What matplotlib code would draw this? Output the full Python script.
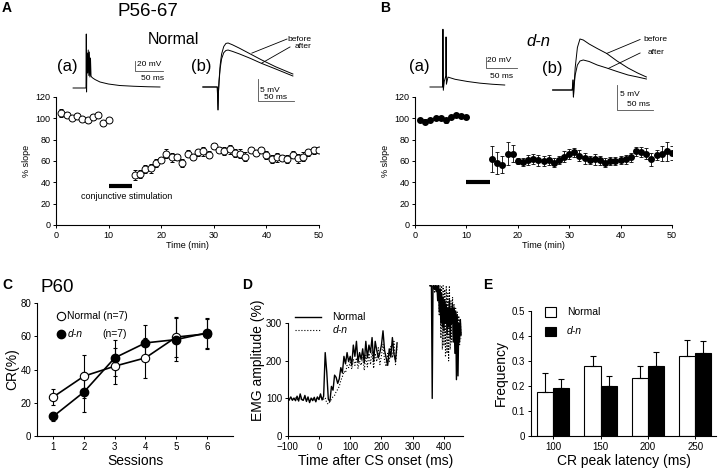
import matplotlib
matplotlib.use("Agg")
import matplotlib.pyplot as plt
from matplotlib.patches import Rectangle

plt.rcParams["font.family"] = ["Liberation Sans", "DejaVu Sans"]
plt.rcParams["axes.linewidth"] = 0.8
plt.rcParams["axes.facecolor"] = "none"

# ---------------- DATA ----------------
# A / B : % slope time course
time_pre = [1, 2, 3, 4, 5, 6, 7, 8, 9, 10]
time_post = [15, 16, 17, 18, 19, 20, 21, 22, 23, 24, 25, 26, 27, 28, 29, 30, 31, 32,
             33, 34, 35, 36, 37, 38, 39, 40, 41, 42, 43, 44, 45, 46, 47, 48, 49, 50]

normal_pre = [105, 103, 100.5, 102, 99.5, 98, 101.5, 103, 95.5, 98.5]
normal_pre_err = [4, 3, 2, 3, 2, 2, 3, 3, 3, 2]
normal_post = [47, 48, 52.5, 53, 58, 61, 67, 63.5, 63.5, 58, 67, 64, 68, 69, 66, 74, 70.5, 69.5,
               71, 67.5, 67, 64, 70.5, 67.5, 70.5, 65.5, 62, 63.5, 63, 62, 66, 62.5, 64, 68, 70, 70.5]
normal_post_err = [5, 4, 4, 4, 4, 3, 4, 4, 3, 4, 3, 3, 3, 4, 3, 3, 3, 4,
                   4, 4, 4, 4, 3, 3, 3, 4, 4, 4, 3, 4, 3, 4, 4, 3, 3, 3]

dn_pre = [98.7, 97, 98.7, 100.6, 100, 98, 101, 103, 102, 101]
dn_pre_err = [2, 2, 2, 2, 2, 2, 2, 2, 2, 2]
dn_post = [62, 58, 56.5, 67, 67, 60, 59, 61, 62, 60.5, 60, 61, 58.5, 61, 64, 66.5, 68, 65,
           62.5, 61, 61.5, 60.5, 58.5, 60, 60, 61, 61.5, 63.5, 69, 68.5, 67, 61.5, 65.5, 67, 69, 67.5]
dn_post_err = [12, 10, 8, 11, 8, 3, 4, 5, 5, 5, 5, 5, 4, 4, 5, 5, 4, 5,
               5, 4, 5, 4, 4, 4, 4, 4, 4, 4, 4, 5, 5, 6, 5, 7, 9, 7]

# example traces (ms, mV relative to baseline)
a_spike_t = [-23, 0, 0.5, 1, 2, 3, 4, 5, 6, 7, 8, 9, 10, 12, 16, 25, 40, 60, 85, 110, 132]
a_spike_v = [0, 0, 108, -8, 70, 30, 76, 25, 72, 22, 60, 24, 22, 20, 17, 12, 8, 5, 3.5, 2.5, 2]
a_epsp_t = [-21, -1, 0, 0.7, 1.5, 3, 5, 8, 11, 14, 20, 30, 45, 60, 80, 104]
a_before_v = [0, 0, -5.2, -1, 1.5, 5, 7.5, 9.2, 9.9, 10, 9.6, 8.8, 7.5, 6.2, 4.6, 2.95]
a_after_v = [0, 0, -5.2, -1, 1.3, 4.2, 6.4, 7.8, 8.3, 8.4, 8.1, 7.5, 6.5, 5.4, 4.1, 2.5]

b_spike_t = [-20.5, 0, 0.4, 1, 2.5, 5, 5.4, 6, 8.5, 20, 40, 60, 80, 100]
b_spike_v = [0, 0, 105, -6, 10, 20, 91, 5, 18, 14, 10, 7, 5, 3.6]
b_epsp_t = [-27.7, -1, 0, 0.6, 1.5, 3, 6, 9.5, 14, 22, 33, 46, 60, 75, 88, 100]
b_before_v = [0, 0, 2, -1.4, 1, 4.5, 8.5, 10.2, 10, 9.2, 8.3, 7.3, 5.8, 4.4, 3.4, 2.6]
b_after_v = [0, 0, 2, -1.4, 0.8, 3, 5, 5.8, 6, 5.7, 5, 4.4, 3.7, 3.0, 2.6, 2.2]

# C : CR(%) over sessions
sessions = [1, 2, 3, 4, 5, 6]
cr_normal = [23.5, 36, 42, 47, 59.5, 61.5]
cr_normal_err = [5, 13, 11, 12, 12, 9]
cr_dn = [11.8, 26.5, 47, 56, 58, 62]
cr_dn_err = [2.5, 12, 11, 11, 13, 9]

# D : EMG amplitude
emg_t1 = list(range(-100, 255, 5))
emg_normal1 = [100, 97, 104, 95, 101, 94, 106, 93, 112, 97, 95, 108, 92, 104, 89, 101, 94, 103,
               91, 104, 97, 112, 96, 106, 222, 170, 98, 92, 132, 122, 162, 156, 140, 152, 182, 168,
               212, 192, 222, 198, 212, 188, 242, 212, 252, 196, 222, 204, 232, 194, 252, 208, 242,
               222, 262, 198, 252, 228, 208, 222, 242, 280, 228, 208, 188, 232, 210, 262, 218, 200, 248]
emg_dn1 = [102, 95, 100, 98, 97, 103, 96, 99, 104, 94, 100, 102, 95, 99, 93, 98, 100, 96,
           99, 101, 98, 103, 100, 98, 102, 88, 85, 92, 98, 105, 108, 118, 124, 132, 148, 158,
           172, 168, 188, 182, 196, 178, 205, 188, 208, 180, 200, 188, 210, 175, 215, 184, 220,
           190, 228, 180, 220, 198, 235, 190, 214, 244, 200, 185, 220, 198, 240, 208, 252, 190, 238]
emg_t2 = [355, 357.5, 360, 362.5, 365, 367.5, 370, 372.5, 375, 377.5, 380, 382.5, 385, 387.5,
          390, 392.5, 395, 397.5, 400, 402.5, 405, 407.5, 410, 412.5, 415, 417.5, 420, 422.5,
          425, 427.5, 430, 432.5, 435, 437.5, 440, 442.5, 445, 447.5, 450, 452.5, 455]
emg_normal2 = [400, 400, 400, 100, 400, 400, 390, 400, 385, 400, 360, 400, 330, 390,
               300, 380, 290, 370, 280, 360, 300, 350, 270, 340, 290, 360, 260, 340,
               300, 350, 250, 340, 220, 330, 150, 320, 160, 300, 250, 310, 270]
emg_dn2 = [400, 400, 400, 400, 395, 400, 380, 400, 390, 400, 370, 400, 320, 400,
           260, 400, 230, 400, 240, 390, 210, 400, 220, 380, 200, 400, 230, 360,
           250, 370, 270, 350, 240, 340, 260, 330, 230, 320, 240, 310, 260]

# E : CR peak latency distribution
latency = ["100", "150", "200", "250"]
freq_normal = [0.177, 0.279, 0.23, 0.32]
freq_normal_err = [0.073, 0.04, 0.048, 0.063]
freq_dn = [0.19, 0.20, 0.28, 0.331]
freq_dn_err = [0.039, 0.039, 0.054, 0.047]

# ---------------- LAYOUT HELPERS ----------------
W, H = 720, 474
fig = plt.figure(figsize=(W / 100, H / 100), dpi=100)


def box(l, t, r, b):
    return [l / W, 1 - b / H, (r - l) / W, (b - t) / H]


def ftext(x, y, s, **kw):
    kw.setdefault("ha", "center")
    kw.setdefault("va", "center")
    fig.text(x / W, 1 - y / H, s, **kw)


def style(ax, fs):
    ax.spines["top"].set_visible(False)
    ax.spines["right"].set_visible(False)
    ax.tick_params(direction="out", length=2.5, width=0.7, labelsize=fs, pad=1.5)


def trace_ax(l, t, r, b, x0, y0, ms_px, mv_px):
    # inset for example traces; scale given in ms/pixel and mV/pixel
    ax = fig.add_axes(box(l, t, r, b))
    ax.set_xlim((l - x0) * ms_px, (r - x0) * ms_px)
    ax.set_ylim((y0 - b) * mv_px, (y0 - t) * mv_px)
    ax.axis("off")
    ax.set_zorder(5)
    return ax


def scalebar(ax, x, y, dx, dy, vlab, hlab, vpos, hpos):
    ax.plot([x, x, x + dx], [y + dy, y, y], color="0.3", lw=0.6, clip_on=False)
    ax.text(vpos[0], vpos[1], vlab, fontsize=6, ha="left", va="center")
    ax.text(hpos[0], hpos[1], hlab, fontsize=6, ha="left", va="center")


TR = dict(color="black", lw=0.7, clip_on=False)

# ---------------- PANEL A ----------------
ftext(2, 8, "A", fontsize=10, fontweight="bold", ha="left")
ftext(148, 12, "P56-67", fontsize=13.5)
ftext(173, 39, "Normal", fontsize=11.5)
ftext(67, 66, "(a)", fontsize=12)
ftext(201, 66, "(b)", fontsize=12)

t1 = trace_ax(70, 25, 175, 100, 86, 88, 50 / 28, 2.0)
t1.plot(a_spike_t, a_spike_v, **TR)
scalebar(t1, 87.5, 34, 50, 20, "20 mV", "50 ms", (91, 47), (98, 18))

t2 = trace_ax(195, 30, 300, 115, 218, 87, 50 / 36, 5 / 22)
t2.plot(a_epsp_t, a_before_v, **TR)
t2.plot(a_epsp_t, a_after_v, **TR)
t2.plot([47, 95.8], [7.7, 10.9], color="black", lw=0.6, clip_on=False)
t2.plot([61, 100], [5.45, 9.1], color="black", lw=0.6, clip_on=False)
t2.text(97, 10.9, "before", fontsize=6, ha="left", va="center")
t2.text(106, 9.1, "after", fontsize=6, ha="left", va="center")
scalebar(t2, 55, -3.2, 50, 5, "5 mV", "50 ms", (58.3, -0.7), (64, -2.3))

axA = fig.add_axes(box(56, 97, 319, 225))
axA.errorbar(time_pre, normal_pre, yerr=normal_pre_err, fmt="o", mfc="white", mec="black",
             ms=5, mew=0.7, ecolor="black", elinewidth=0.6, capsize=1.5, capthick=0.6)
axA.errorbar(time_post, normal_post, yerr=normal_post_err, fmt="o", mfc="white", mec="black",
             ms=5, mew=0.7, ecolor="black", elinewidth=0.6, capsize=1.5, capthick=0.6)
axA.plot([10, 14.5], [37, 37], color="black", lw=3, solid_capstyle="butt")
axA.text(13.5, 26.5, "conjunctive stimulation", fontsize=6.5, ha="center", va="center")
axA.set_xlim(0, 50)
axA.set_ylim(0, 120)
axA.set_xticks([0, 10, 20, 30, 40, 50])
axA.set_yticks([0, 20, 40, 60, 80, 100, 120])
axA.set_xlabel("Time (min)", fontsize=6.5, labelpad=1)
axA.set_ylabel("% slope", fontsize=6.5, labelpad=3)
style(axA, 6.5)

# ---------------- PANEL B ----------------
ftext(380, 8, "B", fontsize=10, fontweight="bold", ha="left")
ftext(538, 41, "d-n", fontsize=12, style="italic")
ftext(419, 67, "(a)", fontsize=12)
ftext(552, 69, "(b)", fontsize=12)

t3 = trace_ax(425, 25, 530, 100, 442.7, 87, 50 / 31, 20 / 11)
t3.plot(b_spike_t, b_spike_v, **TR)
scalebar(t3, 69.7, 34.5, 50, 20, "20 mV", "50 ms", (71.5, 48), (77, 20))

t4 = trace_ax(545, 30, 655, 115, 573, 90, 50 / 36.7, 0.2)
t4.plot(b_epsp_t, b_before_v, **TR)
t4.plot(b_epsp_t, b_after_v, **TR)
t4.plot([45.8, 91.4], [7.3, 10.1], color="black", lw=0.6, clip_on=False)
t4.plot([48, 91.4], [4.3, 7.4], color="black", lw=0.6, clip_on=False)
t4.text(95.5, 10.1, "before", fontsize=6, ha="left", va="center")
t4.text(102, 7.4, "after", fontsize=6, ha="left", va="center")
scalebar(t4, 59.6, -4, 50, 5, "5 mV", "50 ms", (64, -0.8), (73.6, -2.9))

axB = fig.add_axes(box(415, 97, 672, 225))
axB.errorbar(time_pre, dn_pre, yerr=dn_pre_err, fmt="o", color="black",
             ms=4, ecolor="black", elinewidth=0.6, capsize=1.5, capthick=0.6)
axB.errorbar(time_post, dn_post, yerr=dn_post_err, fmt="o", color="black",
             ms=4, ecolor="black", elinewidth=0.6, capsize=1.5, capthick=0.6)
axB.plot([10, 14.5], [40, 40], color="black", lw=3, solid_capstyle="butt")
axB.set_xlim(0, 50)
axB.set_ylim(0, 120)
axB.set_xticks([0, 10, 20, 30, 40, 50])
axB.set_yticks([0, 20, 40, 60, 80, 100, 120])
axB.set_xlabel("Time (min)", fontsize=6.5, labelpad=1)
axB.set_ylabel("% slope", fontsize=6.5, labelpad=3)
style(axB, 6.5)

# ---------------- PANEL C ----------------
ftext(2, 285, "C", fontsize=10, fontweight="bold", ha="left")
ftext(57, 288, "P60", fontsize=13.5)
axC = fig.add_axes(box(37, 303, 233, 436))
axC.errorbar(sessions, cr_normal, yerr=cr_normal_err, fmt="-o", color="black", mfc="white",
             mec="black", ms=6, mew=0.8, lw=1.2, elinewidth=0.8, capsize=1.5, capthick=0.8)
axC.errorbar(sessions, cr_dn, yerr=cr_dn_err, fmt="-o", color="black", mfc="black",
             ms=6, lw=1.2, elinewidth=0.8, capsize=1.5, capthick=0.8)
axC.plot([0.12], [0.9], "o", transform=axC.transAxes, mfc="white", mec="black", ms=6, mew=0.8,
         clip_on=False)
axC.plot([0.12], [0.765], "o", transform=axC.transAxes, color="black", ms=6, clip_on=False)
axC.text(0.155, 0.9, "Normal (n=7)", transform=axC.transAxes, fontsize=7.5, va="center")
axC.text(0.155, 0.765, "d-n", transform=axC.transAxes, fontsize=7.5, va="center", style="italic")
axC.text(0.335, 0.765, "(n=7)", transform=axC.transAxes, fontsize=7.5, va="center")
axC.set_xlim(0.47, 6.85)
axC.set_ylim(0, 80)
axC.set_xticks(sessions)
axC.set_yticks([0, 20, 40, 60, 80])
axC.set_xlabel("Sessions", fontsize=10, labelpad=2)
axC.set_ylabel("CR(%)", fontsize=10, labelpad=1)
style(axC, 7)

# ---------------- PANEL D ----------------
ftext(242, 285, "D", fontsize=10, fontweight="bold", ha="left")
axD = fig.add_axes(box(287.7, 284.6, 463, 436))
axD.plot(emg_t1, emg_dn1, color="black", lw=0.8, ls=":")
axD.plot(emg_t2, emg_dn2, color="black", lw=0.8, ls=":")
axD.plot(emg_t1, emg_normal1, color="black", lw=1.0)
axD.plot(emg_t2, emg_normal2, color="black", lw=1.0)
axD.plot([0.04, 0.19], [0.785, 0.785], color="black", lw=1.0, transform=axD.transAxes, clip_on=False)
axD.plot([0.04, 0.19], [0.70, 0.70], color="black", lw=0.8, ls=":", transform=axD.transAxes,
         clip_on=False)
axD.text(0.255, 0.785, "Normal", transform=axD.transAxes, fontsize=7.5, va="center")
axD.text(0.255, 0.70, "d-n", transform=axD.transAxes, fontsize=7.5, va="center", style="italic")
axD.set_xlim(-100, 461)
axD.set_ylim(0, 403)
axD.spines["left"].set_bounds(0, 300)
axD.set_xticks([-100, 0, 100, 200, 300, 400])
axD.set_yticks([0, 100, 200, 300])
axD.set_xlabel("Time after CS onset (ms)", fontsize=10, labelpad=2)
axD.set_ylabel("EMG amplitude (%)", fontsize=10, labelpad=1)
style(axD, 7)

# ---------------- PANEL E ----------------
ftext(483, 285, "E", fontsize=10, fontweight="bold", ha="left")
axE = fig.add_axes(box(531, 310.7, 716, 436))
pos = list(range(len(latency)))
bw = 0.34
axE.bar([p - bw / 2 for p in pos], freq_normal, bw, color="white", edgecolor="black", lw=0.8,
        yerr=[[0] * 4, freq_normal_err], error_kw=dict(elinewidth=0.8, capsize=2, capthick=0.8))
axE.bar([p + bw / 2 for p in pos], freq_dn, bw, color="black", edgecolor="black", lw=0.8,
        yerr=[[0] * 4, freq_dn_err], error_kw=dict(elinewidth=0.8, capsize=2, capthick=0.8))
axE.add_patch(Rectangle((0.076, 0.952), 0.058, 0.077, transform=axE.transAxes, facecolor="white",
                        edgecolor="black", lw=0.8, clip_on=False))
axE.add_patch(Rectangle((0.076, 0.800), 0.058, 0.072, transform=axE.transAxes, facecolor="black",
                        edgecolor="black", lw=0.8, clip_on=False))
axE.text(0.193, 0.99, "Normal", transform=axE.transAxes, fontsize=7.5, va="center")
axE.text(0.193, 0.838, "d-n", transform=axE.transAxes, fontsize=7.5, va="center", style="italic")
axE.set_xlim(-0.47, 3.44)
axE.set_ylim(0, 0.5)
axE.set_xticks(pos)
axE.set_xticklabels(latency)
axE.set_yticks([0, 0.1, 0.2, 0.3, 0.4, 0.5])
axE.set_yticklabels(["0", "0.1", "0.2", "0.3", "0.4", "0.5"])
axE.set_xlabel("CR peak latency (ms)", fontsize=10, labelpad=2)
axE.set_ylabel("Frequency", fontsize=10, labelpad=3)
style(axE, 7)

plt.savefig("out.png", dpi=100, facecolor="white")
